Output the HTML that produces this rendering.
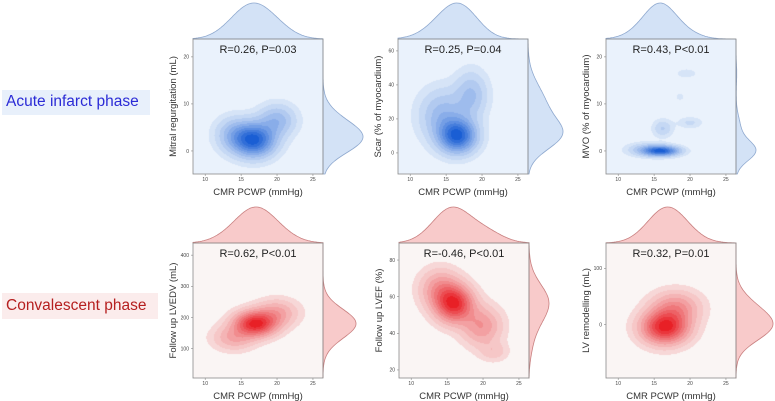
<!DOCTYPE html>
<html><head><meta charset="utf-8">
<style>
html,body{margin:0;padding:0;background:#fff;}
#root{position:relative;width:775px;height:401px;overflow:hidden;font-family:"Liberation Sans",sans-serif;}
canvas{position:absolute;}
svg{position:absolute;left:0;top:0;}
.phase{position:absolute;font-size:15.5px;padding:0 4px;white-space:nowrap;line-height:24px;}
</style></head>
<body>
<div id="root">
<div class="phase" style="left:2px;top:90px;width:140px;height:25px;background:#e8f0fb;color:#2b2bd6;">Acute infarct phase</div>
<div class="phase" style="left:2px;top:293px;width:148px;height:26px;line-height:26px;background:#fbecec;color:#b51f1f;">Convalescent phase</div>
<svg id="ov" width="775" height="401"></svg>
</div>
<script>
// ---- data (x = CMR PCWP mmHg, y = outcome) : gaussian-mixture descriptions of KDEs ----
const xTicks = [10,15,20,25];
const statLabels = ["R=0.26, P=0.03","R=0.25, P=0.04","R=0.43, P<0.01","R=0.62, P<0.01","R=-0.46, P<0.01","R=0.32, P=0.01"];
const yLabels = ["Mitral regurgitation (mL)","Scar (% of myocardium)","MVO (% of myocardium)","Follow up LVEDV (mL)","Follow up LVEF (%)","LV remodelling (mL)"];
const yTicks1 = [0,10,20];
const yTicks2 = [0,20,40,60];
const yTicks3 = [0,10,20];
const yTicks4 = [100,200,300,400];
const yTicks5 = [20,40,60,80];
const yTicks6 = [0,100];
const p1X=[16.8,20,14], p1Y=[2.3,6.5,3.5], p1Sx=[1.9,1.7,1.7], p1Sy=[2.3,2.2,2.4], p1W=[1,0.35,0.3];
const p2X=[16.6,18.5,14.5], p2Y=[10,34,22], p2Sx=[1.7,1.5,2.1], p2Sy=[6.5,9,10], p2W=[1,0.3,0.35];
const p3X=[16,14,16.2,20,19.5,18.6], p3Y=[0,0.3,4.8,6,16.5,11.5], p3Sx=[1.6,1.8,0.9,1.1,0.9,0.4], p3Sy=[0.7,0.9,1.2,0.8,0.6,0.5], p3W=[1,0.25,0.2,0.12,0.1,0.08];
const p4X=[17,14,20], p4Y=[180,135,215], p4Sx=[1.9,1.9,1.9], p4Sy=[26,26,28], p4W=[1,0.28,0.3];
const p5X=[16,14,19.8,21.5], p5Y=[56,64,44,30], p5Sx=[1.7,1.8,1.8,1.3], p5Sy=[6.5,7,7,3.5], p5W=[1,0.4,0.4,0.15];
const p6X=[16.5,18], p6Y=[-5,30], p6Sx=[2.1,2.2], p6Sy=[19,19], p6W=[1,0.4];

const comps=[[p1X,p1Y,p1Sx,p1Sy,p1W],[p2X,p2Y,p2Sx,p2Sy,p2W],[p3X,p3Y,p3Sx,p3Sy,p3W],[p4X,p4Y,p4Sx,p4Sy,p4W],[p5X,p5Y,p5Sx,p5Sy,p5W],[p6X,p6Y,p6Sx,p6Sy,p6W]];
const yTickSets=[yTicks1,yTicks2,yTicks3,yTicks4,yTicks5,yTicks6];
// layout
const layout=[
 {l:193,t:39,yd:[-4.9,23.8],rp:40,red:false},
 {l:398,t:39,yd:[-12.4,67],rp:35,red:false},
 {l:606,t:39,yd:[-4.9,23.8],rp:20,red:false},
 {l:193,t:243,yd:[6,439],rp:33,red:true},
 {l:399,t:243,yd:[15.6,89.3],rp:20,red:true},
 {l:606,t:243,yd:[-95,145],rp:37,red:true}];
const W=130,H=135,XD=[8.3,26.4];
const NS="http://www.w3.org/2000/svg";
const ov=document.getElementById('ov');const root=document.getElementById('root');
function mk(tag,attrs,parent){const e=document.createElementNS(NS,tag);for(const k in attrs)e.setAttribute(k,attrs[k]);(parent||ov).appendChild(e);return e;}
const levels=[0.035,0.09,0.17,0.26,0.36,0.46,0.57,0.68,0.79,0.9];
function mix(a,b,t){return a.map((v,i)=>Math.round(v+(b[i]-v)*t));}
layout.forEach((L,pi)=>{
 const [cx,cy,sx,sy,w]=comps[pi];
 const xs=v=>L.l+(v-XD[0])/(XD[1]-XD[0])*W;
 const ys=v=>L.t+H-(v-L.yd[0])/(L.yd[1]-L.yd[0])*H;
 const xinv=p=>XD[0]+(p-L.l)/W*(XD[1]-XD[0]);
 const yinv=p=>L.yd[0]+(L.t+H-p)/H*(L.yd[1]-L.yd[0]);
 function dens(x,y){let s=0;for(let i=0;i<cx.length;i++){const dx=(x-cx[i])/sx[i],dy=(y-cy[i])/sy[i];s+=w[i]*Math.exp(-0.5*(dx*dx+dy*dy));}return s;}
 const cv=document.createElement('canvas');cv.width=W;cv.height=H;cv.style.left=L.l+'px';cv.style.top=L.t+'px';
 
 
 root.insertBefore(cv,ov);
 const ctx=cv.getContext('2d');const img=ctx.createImageData(W,H);
 const vals=new Float32Array(W*H);let mx=0;
 for(let j=0;j<H;j++)for(let i=0;i<W;i++){const v=dens(xinv(L.l+i+0.5),yinv(L.t+j+0.5));vals[j*W+i]=v;if(v>mx)mx=v;}
 const bg=L.red?[250,245,244]:[234,242,252];
 const lo=L.red?[247,215,215]:[214,228,247];
 const hi=L.red?[232,32,38]:[26,94,212];
 for(let k=0;k<W*H;k++){const f=vals[k]/mx;let lv=-1;for(let q=0;q<levels.length;q++)if(f>=levels[q])lv=q;
  const c=lv<0?bg:mix(lo,hi,Math.pow(lv/9,1.1));img.data[k*4]=c[0];img.data[k*4+1]=c[1];img.data[k*4+2]=c[2];img.data[k*4+3]=255;}
 ctx.putImageData(img,0,0);
 const g=mk('g',{});
 
 
 const fill=L.red?'#f8caca':'#d3e2f6',stroke=L.red?'#c98080':'#8fa9cf';
 const bwx=0.09*(XD[1]-XD[0]), bwy=0.07*(L.yd[1]-L.yd[0]);
 // top marginal
 const mxv=[];for(let p=0;p<=W;p+=1){const x=xinv(L.l+p);let s=0;for(let i=0;i<cx.length;i++){const sg=Math.sqrt(sx[i]*sx[i]+bwx*bwx);const dx=(x-cx[i])/sg;s+=w[i]*sy[i]*sx[i]/sg*Math.exp(-0.5*dx*dx);}mxv.push(s);}
 const mm=Math.max(...mxv);let d='M'+L.l+','+L.t;mxv.forEach((v,p)=>{d+=' L'+(L.l+p)+','+(L.t-v/mm*36).toFixed(1);});d+=' L'+(L.l+W)+','+L.t+' Z';
 const tm=mk('path',{d:d,fill:fill,stroke:stroke,'stroke-width':0.8},g);
 
 
 // right marginal
 const myv=[];for(let p=0;p<=H;p+=1){const y=yinv(L.t+p);let s=0;for(let i=0;i<cx.length;i++){const sg=Math.sqrt(sy[i]*sy[i]+bwy*bwy);const dy=(y-cy[i])/sg;s+=w[i]*sx[i]*sy[i]/sg*Math.exp(-0.5*dy*dy);}myv.push(s);}
 const m2=Math.max(...myv);d='M'+(L.l+W)+','+L.t;myv.forEach((v,p)=>{d+=' L'+(L.l+W+v/m2*L.rp).toFixed(1)+','+(L.t+p);});d+=' L'+(L.l+W)+','+(L.t+H)+' Z';
 const rm=mk('path',{d:d,fill:fill,stroke:stroke,'stroke-width':0.8},g);
 
 
 const fr=mk('rect',{x:L.l,y:L.t,width:W,height:H,fill:'none',stroke:'#8a8a8a','stroke-width':0.8},g);
 
 
 xTicks.forEach(v=>{const x=xs(v);mk('line',{x1:x,x2:x,y1:L.t+H,y2:L.t+H+2,stroke:'#888','stroke-width':0.6},g);
  const t=mk('text',{x:x,y:L.t+H+7,'font-size':5,'text-anchor':'middle',fill:'#444'},g);t.textContent=v;
  
  });
 yTickSets[pi].forEach(v=>{const y=ys(v);mk('line',{x1:L.l-2,x2:L.l,y1:y,y2:y,stroke:'#888','stroke-width':0.6},g);
  const t=mk('text',{x:L.l-4,y:y+1.8,'font-size':5,'text-anchor':'end',fill:'#444'},g);t.textContent=v;
  
  });
 const xl=mk('text',{x:L.l+W/2,y:L.t+H+21,'font-size':9.5,'text-anchor':'middle',fill:'#333'},g);xl.textContent='CMR PCWP (mmHg)';
 
 
 const yl=mk('text',{x:0,y:0,'font-size':9.5,'text-anchor':'middle',fill:'#333',transform:'translate('+(L.l-17)+','+(L.t+H/2)+') rotate(-90)'},g);yl.textContent=yLabels[pi];
 
 
 const st=mk('text',{x:L.l+W/2,y:L.t+14,'font-size':11,'text-anchor':'middle',fill:'#222'},g);st.textContent=statLabels[pi];
 
 
});
</script>
</body></html>
